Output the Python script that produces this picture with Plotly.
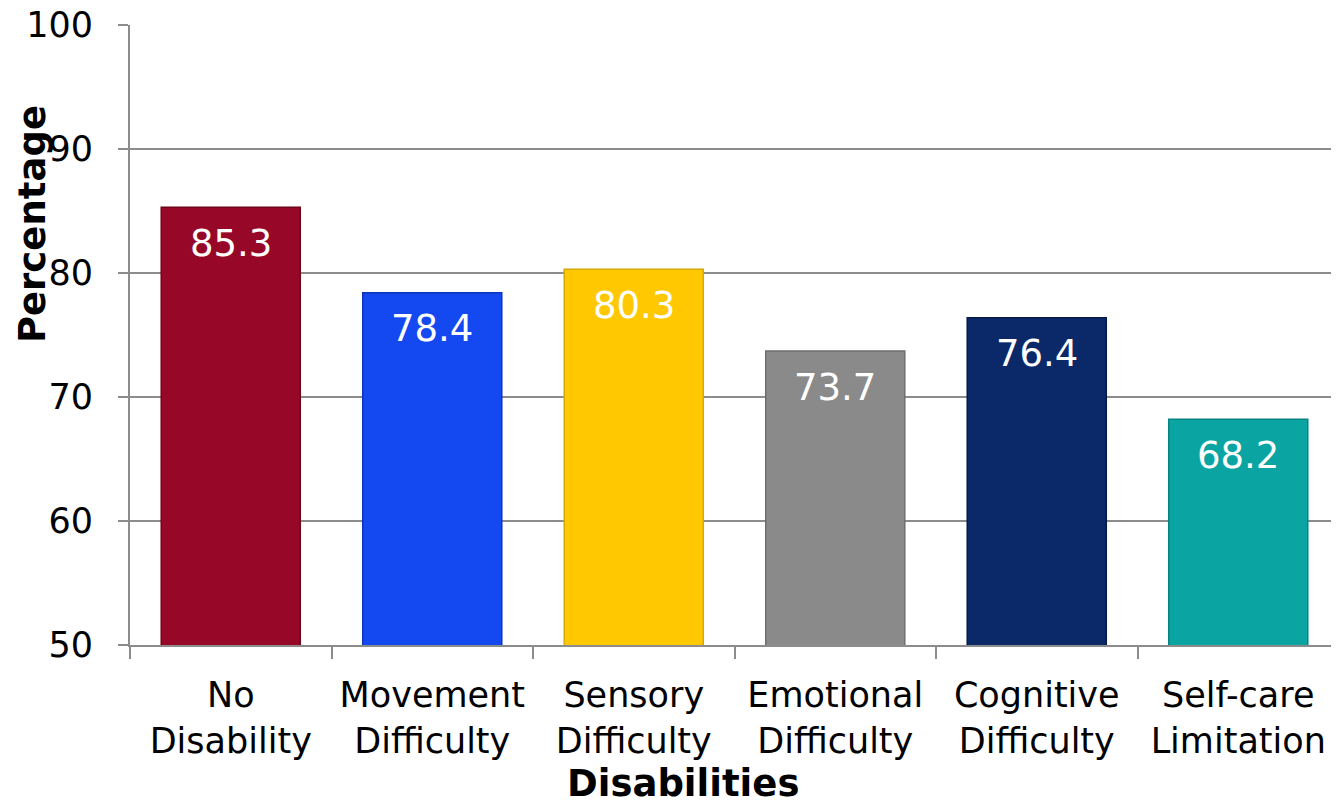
import plotly.graph_objects as go

# 資料
categories = ['No<br>Disability', 'Movement<br>Difficulty', 'Sensory<br>Difficulty',
              'Emotional<br>Difficulty', 'Cognitive<br>Difficulty', 'Self-care<br>Limitation']
values = [85.3, 78.4, 80.3, 73.7, 76.4, 68.2]
bar_colors = ['#970828', '#1448F0', '#FFC800', '#8A8A8A', '#0B2868', '#0AA5A2']
edge_colors = ['#6E0519', '#0C35B8', '#D9A800', '#6E6E6E', '#061A48', '#078482']
y_ticks = [50, 60, 70, 80, 90, 100]

FONT = 'Verdana, DejaVu Sans, sans-serif'

fig = go.Figure()
fig.add_trace(go.Bar(
    x=categories, y=values,
    marker=dict(color=bar_colors, line=dict(color=edge_colors, width=1.5)),
    width=0.69,
))

# 數值標籤放在長條內部上方
for c, v in zip(categories, values):
    fig.add_annotation(x=c, y=v, text=f'{v:.1f}', showarrow=False,
                       yanchor='middle', yshift=-36,
                       font=dict(family=FONT, size=37, color='white'))

# 座標軸標題 (頁面 body 有 8px 邊距)
fig.add_annotation(text='<b>Percentage</b>', xref='paper', yref='paper',
                   x=-0.081, y=0.679, textangle=-90, showarrow=False,
                   xanchor='center', yanchor='middle',
                   font=dict(family=FONT, size=37, color='black'))
fig.add_annotation(text='<b>Disabilities</b>', xref='paper', yref='paper',
                   x=0.457, y=-0.224, showarrow=False,
                   xanchor='center', yanchor='middle',
                   font=dict(family=FONT, size=37, color='black'))

fig.update_layout(
    width=1331, height=796,
    margin=dict(l=122, r=0, t=17, b=159, autoexpand=False),
    paper_bgcolor='white', plot_bgcolor='white',
    font=dict(family=FONT, size=35, color='black'),
    showlegend=False,
)
fig.update_xaxes(
    automargin=False,
    showline=True, linecolor='#8C8C8C', linewidth=2,
    ticks='outside', tickson='boundaries', ticklen=12, tickcolor='#8C8C8C', tickwidth=2,
    ticklabelstandoff=18, ticklabeloverflow='allow',
    tickfont=dict(family=FONT, size=35, color='black'),
)
fig.update_yaxes(
    automargin=False,
    range=[50, 100], tickvals=y_ticks,
    showgrid=True, gridcolor='#8C8C8C', gridwidth=1.5,
    showline=True, linecolor='#8C8C8C', linewidth=2,
    ticks='outside', ticklen=10, tickcolor='#8C8C8C', tickwidth=2,
    ticklabelstandoff=18, ticklabeloverflow='allow',
    tickfont=dict(family=FONT, size=35, color='black'),
)

fig.write_html('out.html')
